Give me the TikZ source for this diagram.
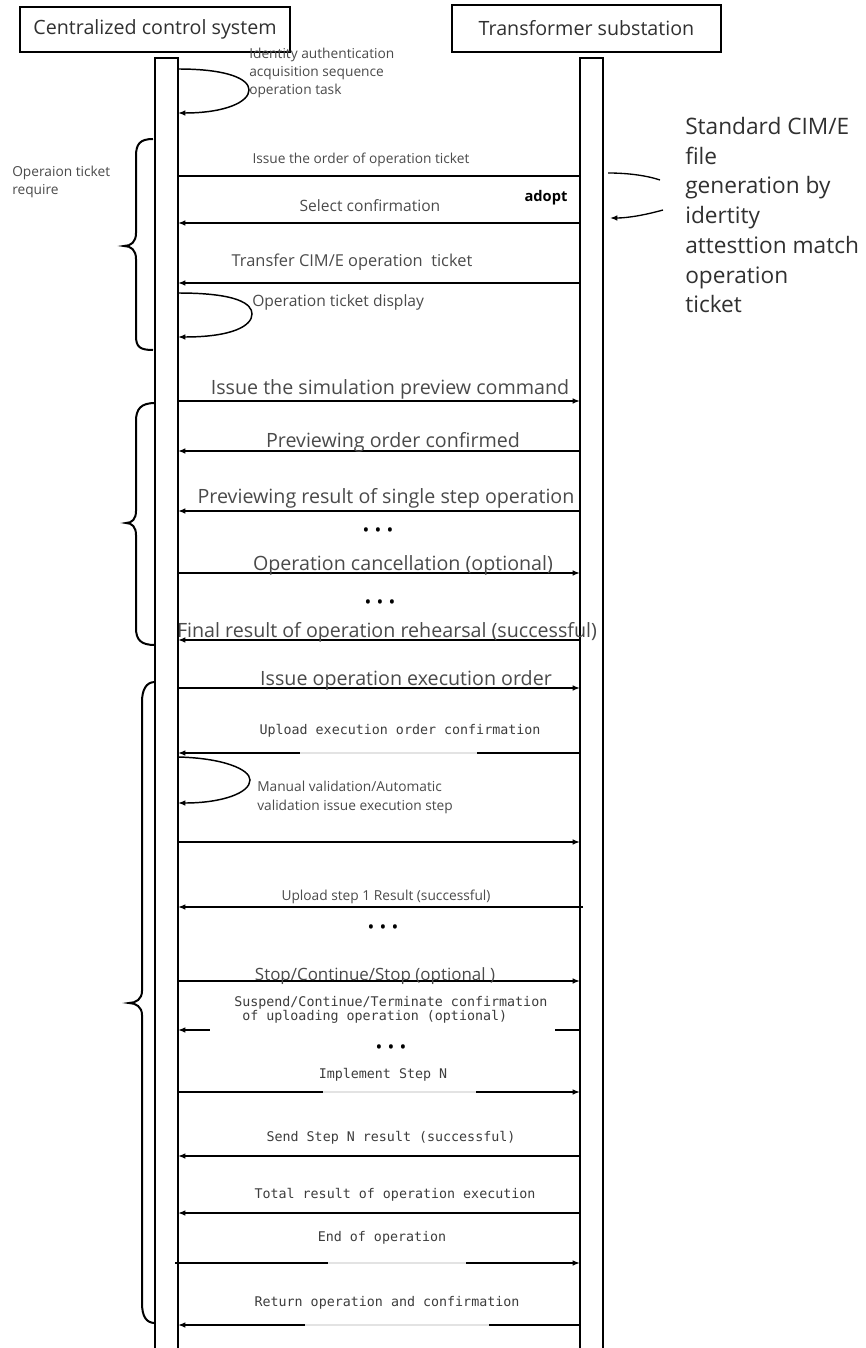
\documentclass[tikz,border=0pt]{standalone}
\usepackage{fontspec}
\setmainfont{Open Sans}
\setmonofont{DejaVu Sans Mono}
\usetikzlibrary{arrows.meta}
\definecolor{txt}{HTML}{4A4A4A}
\definecolor{txtmono}{HTML}{3C3C3C}
\definecolor{txtdark}{HTML}{303030}
\begin{document}
\begin{tikzpicture}[x=0.75pt,y=-0.75pt,
  header/.style={draw=black, line width=2.2pt, inner sep=0pt, text=txtdark,
    font=\fontsize{14.75pt}{17pt}\selectfont},
  bar/.style={draw=black, line width=2pt},
  msg/.style={draw=black, line width=1.1pt},
  tip/.style={-{Latex[length=5.5pt,width=4.2pt]}},
  brace/.style={draw=black, line width=1.5pt},
  lblsmall/.style={text=txt, inner sep=0pt, font=\fontsize{10.3pt}{13.5pt}\selectfont},
  lblmid/.style={text=txt, inner sep=0pt, font=\fontsize{11.7pt}{14pt}\selectfont},
  lblbig/.style={text=txt, inner sep=0pt, font=\fontsize{14.75pt}{17pt}\selectfont},
  lblmono/.style={text=txtmono, inner sep=0pt, font=\ttfamily\fontsize{10pt}{11pt}\selectfont},
  dots/.style={text=black, inner sep=0pt, font=\fontsize{13.5pt}{15pt}\selectfont},
  note/.style={text=txtdark, inner sep=0pt, align=left, font=\fontsize{17pt}{22.3pt}\selectfont},
  gap/.style={draw=gray!22, line width=1.3pt},
  cut/.style={draw=white, line width=1.5pt}]

\useasboundingbox (0,0) rectangle (865,1348);

% participants
\node[header, minimum width=202.5pt, minimum height=33.75pt] (hdrL) at (155,29.5) {Centralized control system};
\node[header, minimum width=201.75pt, minimum height=35.25pt] (hdrR) at (586.5,28.5) {Transformer substation};

% lifelines
\draw[bar] (155,1348) -- (155,58) -- (178,58) -- (178,1348);
\draw[bar] (580,1348) -- (580,58) -- (603,58) -- (603,1348);

% message end points on the two lifelines
\foreach \n/\y in {m1/176, m2/223, m3/283, m4/401, m5/451, m6/511, m7/573, m8/640,
  m9/688, m10/753, m11/842, m12/907, m13/981, m14/1030, m15/1092, m16/1156,
  m17/1213, m18/1263, m19/1325}{
  \coordinate (\n L) at (178,\y);
  \coordinate (\n R) at (580,\y);
}
\coordinate (m12X) at (583,907);
\coordinate (m18X) at (175,1263);

% self messages on the control system
\coordinate (s1a) at (178,69);   \coordinate (s1b) at (178,113);
\coordinate (s2a) at (178,293);  \coordinate (s2b) at (178,337);
\coordinate (s3a) at (178,757);  \coordinate (s3b) at (178,803);

\draw[msg, tip] (s1a) .. controls (228,69) and (249,79) .. (249,90)
  .. controls (249,102) and (225,113) .. (s1b);
\draw[msg, tip] (s2a) .. controls (238,293) and (252,304) .. (252,314)
  .. controls (252,326) and (232,337) .. (s2b);
\draw[msg, tip] (s3a) .. controls (222,758) and (250,769) .. (250,780)
  .. controls (250,793) and (222,803) .. (s3b);

% messages between the participants
\draw[msg] (m1L) -- (m1R);
\draw[msg, tip] (m2R) -- (m2L);
\draw[msg, tip] (m3R) -- (m3L);
\draw[msg, tip] (m4L) -- (m4R);
\draw[msg, tip] (m5R) -- (m5L);
\draw[msg, tip] (m6R) -- (m6L);
\draw[msg, tip] (m7L) -- (m7R);
\draw[msg, tip] (m8R) -- (m8L);
\draw[msg, tip] (m9L) -- (m9R);
\draw[msg, tip] (m10R) -- (m10L);
\draw[msg, tip] (m11L) -- (m11R);
\draw[msg, tip] (m12X) -- (m12L);
\draw[msg, tip] (m13L) -- (m13R);
\draw[msg, tip] (m14R) -- (m14L);
\draw[msg, tip] (m15L) -- (m15R);
\draw[msg, tip] (m16R) -- (m16L);
\draw[msg, tip] (m17R) -- (m17L);
\draw[msg, tip] (m18X) -- (m18R);
\draw[msg, tip] (m19R) -- (m19L);

% worn-out stretches of some message lines
\draw[gap] (300,753) -- (477,753);
\draw[cut] (210,1030) -- (555,1030);
\draw[gap] (323,1092) -- (476,1092);
\draw[gap] (328,1263) -- (466,1263);
\draw[gap] (305,1325) -- (489,1325);

% phase braces
\draw[brace] (153,139) .. controls (140,139) and (136,144) .. (136,156) -- (136,233)
  .. controls (136,242) and (131,246) .. (124,246)
  .. controls (131,246) and (136,250) .. (136,259) -- (136,336)
  .. controls (136,347) and (140,350) .. (153,350);
\draw[brace] (155,403) .. controls (141,403) and (136,409) .. (136,421) -- (136,511)
  .. controls (136,519) and (132,523) .. (126,523)
  .. controls (132,523) and (136,527) .. (136,535) -- (136,628)
  .. controls (136,640) and (141,645) .. (155,645);
\draw[brace] (155,682) .. controls (146,682) and (142,690) .. (142,702) -- (142,991)
  .. controls (142,999) and (136,1003) .. (129,1003)
  .. controls (136,1003) and (142,1007) .. (142,1015) -- (142,1303)
  .. controls (142,1316) and (146,1323) .. (155,1323);

% side note on the substation
\coordinate (n1) at (660,180);
\coordinate (n2) at (663,210);
\coordinate (r1) at (608,173);
\coordinate (r2) at (610,218);
\draw[msg, line width=1pt] (r1) .. controls (630,173) and (648,176) .. (n1);
\draw[msg, line width=1pt, tip] (n2) .. controls (645,215) and (628,218) .. (r2);
\node[note, anchor=north west] (noteR) at (685,117)
  {Standard CIM/E\\file\\generation by\\idertity\\attesttion match\\operation\\ticket};

% labels
\node[lblsmall, anchor=north west, align=left] (t0) at (249,48)
  {Identity authentication\\acquisition sequence\\operation task};
\node[lblsmall, anchor=north west, align=left] (tb1) at (12,166) {Operaion ticket\\require};
\node[lblsmall] (t1) at (361,160) {Issue the order of operation ticket};
\node[lblmid] (t2) at (370,206) {Select confirmation};
\node[text=black, inner sep=0pt, font=\bfseries\fontsize{11pt}{13pt}\selectfont] (tad) at (546,198) {adopt};
\node[lblmid, font=\fontsize{12.3pt}{14pt}\selectfont] (t3) at (352,262) {Transfer CIM/E operation\ \ ticket};
\node[lblmid, anchor=west] (t4) at (252,302) {Operation ticket display};

\node[lblbig] (t5) at (390,389) {Issue the simulation preview command};
\node[lblbig] (t6) at (393,442) {Previewing order confirmed};
\node[lblbig] (t7) at (386,498) {Previewing result of single step operation};
\node[dots] (d1) at (378,532) {•\hspace{4pt}•\hspace{4pt}•};
\node[lblbig] (t8) at (403,565) {Operation cancellation (optional)};
\node[dots] (d2) at (380,604) {•\hspace{4pt}•\hspace{4pt}•};
\node[lblbig] (t9) at (387,632) {Final result of operation rehearsal (successful)};

\node[lblbig] (t10) at (406,680) {Issue operation execution order};
\node[lblmono] (t11) at (400,731) {Upload execution order confirmation};
\node[lblsmall, anchor=north west, align=left, font=\fontsize{10.3pt}{14pt}\selectfont] (t12) at (257,781)
  {Manual validation/Automatic\\validation issue execution step};
\node[lblsmall] (t13) at (386,897) {Upload step 1 Result (successful)};
\node[dots] (d3) at (383,929) {•\hspace{4pt}•\hspace{4pt}•};
\node[lblbig, font=\fontsize{12.7pt}{15pt}\selectfont] (t14) at (375,976) {Stop/Continue/Stop (optional )};
\node[lblmono, anchor=west, align=left] (t15) at (234,1010)
  {Suspend/Continue/Terminate confirmation\\\ of uploading operation (optional)};
\node[dots] (d4) at (391,1049) {•\hspace{4pt}•\hspace{4pt}•};
\node[lblmono] (t16) at (383,1075) {Implement Step N};
\node[lblmono] (t17) at (391,1138) {Send Step N result (successful)};
\node[lblmono] (t18) at (395,1195) {Total result of operation execution};
\node[lblmono] (t19) at (382,1238) {End of operation};
\node[lblmono] (t20) at (387,1303) {Return operation and confirmation};

\end{tikzpicture}
\end{document}
